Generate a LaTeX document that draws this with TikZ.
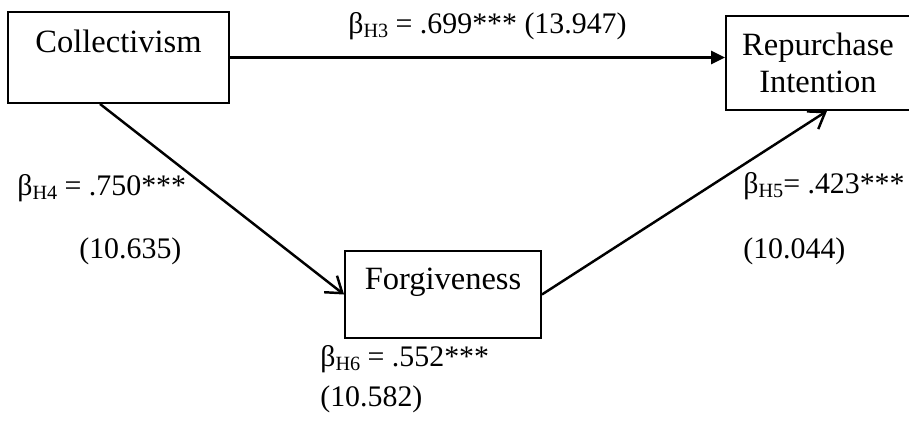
\documentclass[tikz,border=0pt]{standalone}
\usepackage{fontspec}
\setmainfont{Liberation Serif}
\usetikzlibrary{positioning,arrows.meta}

\newcommand{\hsub}[1]{\raisebox{-0.35ex}{\fontsize{11.5}{11.5}\selectfont #1}}

\begin{document}
\begin{tikzpicture}[
    x=0.02cm, y=-0.02cm,
    font=\fontsize{18.5}{21}\selectfont,
    box/.style={
        rectangle,
        draw=black,
        line width=1.1pt,
        fill=white,
        align=center,
        inner sep=0pt
    },
    onebox/.style={
        box,
        text height=0.5cm,
        text depth=0.7cm
    },
    coef/.style={
        anchor=base west,
        inner sep=0pt,
        font=\fontsize{17}{20}\selectfont
    },
    solid arrow/.style={
        -{Triangle[length=0.28cm, width=0.26cm]},
        line width=1.4pt
    },
    open arrow/.style={
        -{Straight Barb[length=0.3cm, width=0.42cm]},
        line width=1.4pt
    }
]
\useasboundingbox (0,0) rectangle (909,423);

% Boxes
\node[onebox, minimum width=4.42cm, minimum height=1.82cm] (coll) at (118.5,57.5) {Collectivism};
\node[box, minimum width=3.68cm, minimum height=1.88cm] (rep) at (818,63) {Repurchase\\Intention};
\node[onebox, minimum width=3.92cm, minimum height=1.74cm] (forg) at (443,294.5) {Forgiveness};

% Paths
\draw[solid arrow] (coll.east) -- (coll.east -| rep.west);
\draw[open arrow] ([xshift=-0.37cm]coll.south) -- (forg.west);
\draw[open arrow] (forg.east) -- ([xshift=0.18cm]rep.south);

% Coefficients
\node[coef] (h3) at (348,33) {β\hsub{H3} = .699*** (13.947)};
\node[coef] (h4) at (17,195) {β\hsub{H4} = .750***};
\node[coef] (h4t) at (79,258) {(10.635)};
\node[coef] (h5) at (743,193) {β\hsub{H5}= .423***};
\node[coef] (h5t) at (743,258) {(10.044)};
\node[coef] (h6) at (320,366) {β\hsub{H6} = .552***};
\node[coef] (h6t) at (320,406) {(10.582)};

\end{tikzpicture}
\end{document}
